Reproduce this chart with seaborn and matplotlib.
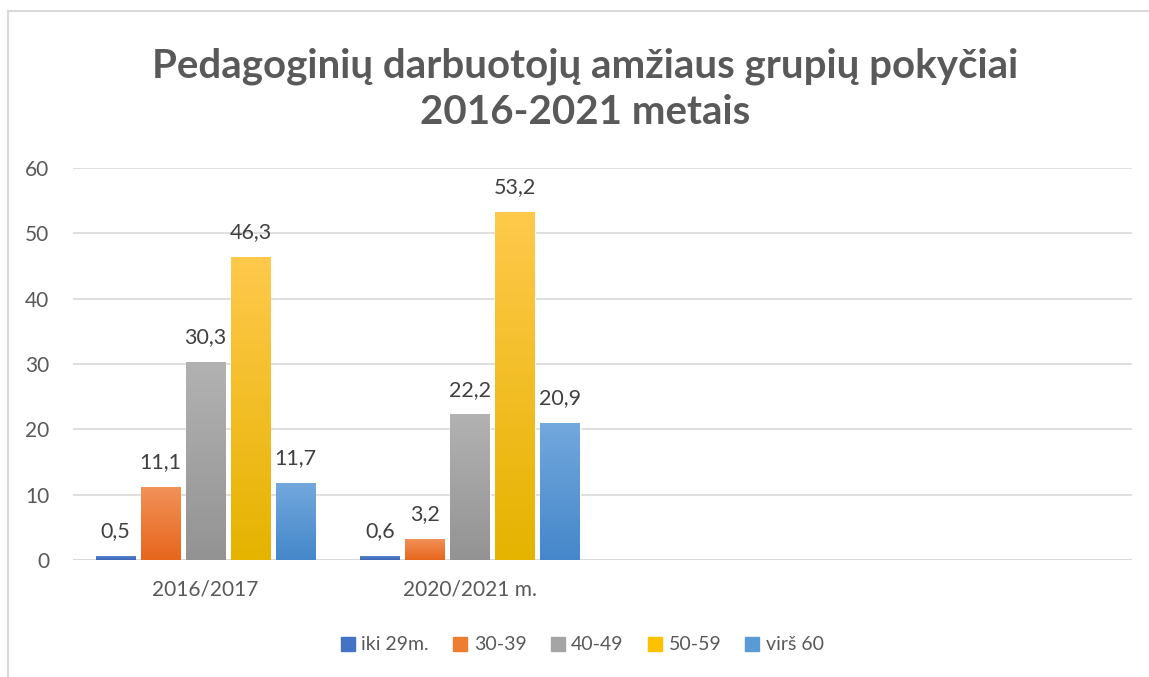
import numpy as np
import pandas as pd
import seaborn as sns
import matplotlib
matplotlib.use("Agg")
import matplotlib.pyplot as plt
from matplotlib.colors import LinearSegmentedColormap
from matplotlib.lines import Line2D
from matplotlib.patches import Rectangle

# ---- data ----
categories = ["2016/2017", "2020/2021 m."]
groups = ["iki 29m.", "30-39", "40-49", "50-59", "virš 60"]
values_2016 = [0.5, 11.1, 30.3, 46.3, 11.7]
values_2020 = [0.6, 3.2, 22.2, 53.2, 20.9]
yticks = [0, 10, 20, 30, 40, 50, 60]
title = "Pedagoginių darbuotojų amžiaus grupių pokyčiai\n2016-2021 metais"

colors = ["#4472C4", "#ED7D31", "#A5A5A5", "#FFC000", "#5B9BD5"]
grads = [("#5A82CE", "#3A65B5"), ("#F29158", "#E6661C"), ("#B2B2B2", "#939393"),
         ("#FFC94C", "#E5B300"), ("#72A8DD", "#4587CA")]

df = pd.DataFrame({
    "period": [categories[0]] * len(groups) + [categories[1]] * len(groups),
    "group": groups * 2,
    "value": values_2016 + values_2020,
})

sns.set_theme(style="white")
plt.rcParams["font.family"] = ["Lato", "DejaVu Sans"]

W, H = 1149, 677
fig = plt.figure(figsize=(W / 100, H / 100), dpi=100)
ax = fig.add_axes([73 / W, (H - 560) / H, (1132 - 73) / W, (560 - 168) / H])

sns.barplot(data=df, x="period", y="value", hue="group", order=categories,
            hue_order=groups, palette=colors, saturation=1, width=0.85, gap=0.12,
            errorbar=None, legend=False, ax=ax)

# gradient fill for each bar
for cont, (top, bot) in zip(ax.containers, grads):
    cmap = LinearSegmentedColormap.from_list("g", [bot, top])
    for p in cont.patches:
        x0, y0, w, h = p.get_x(), p.get_y(), p.get_width(), p.get_height()
        ax.imshow(np.linspace(0, 1, 256).reshape(-1, 1), cmap=cmap, origin="lower",
                  extent=[x0, x0 + w, y0, y0 + h], aspect="auto",
                  zorder=p.get_zorder() + 0.1, clip_path=p, clip_on=True)

for cont in ax.containers:
    ax.bar_label(cont, labels=[f"{v:.1f}".replace(".", ",") for v in cont.datavalues],
                 padding=11, fontsize=15.5, color="#404040")

ax.set_xlim(-0.5, 3.5)
ax.set_ylim(0, 60)
ax.set_yticks(yticks)
ax.set_yticklabels([str(t) for t in yticks])
ax.set_xlabel("")
ax.set_ylabel("")
ax.set_axisbelow(True)
ax.yaxis.grid(True, color="#D9D9D9", lw=1.2)
ax.xaxis.grid(False)
for s in ax.spines.values():
    s.set_visible(False)
ax.axhline(0, color="#D9D9D9", lw=1.4, zorder=1)
ax.tick_params(axis="y", length=0, pad=17, labelsize=15, labelcolor="#595959")
ax.tick_params(axis="x", length=0, pad=14, labelsize=15, labelcolor="#595959")

fig.text(585 / W, 1 - 89 / H, title, ha="center", va="center", fontsize=29,
         fontweight="bold", color="#595959", linespacing=1.3)

handles = [Line2D([0], [0], marker="s", linestyle="none", markersize=9.5,
                  markerfacecolor=c, markeredgecolor=c) for c in colors]
fig.legend(handles, groups, loc="center", bbox_to_anchor=(582 / W, 1 - 645 / H),
           ncol=5, frameon=False, fontsize=14, handlelength=0.8, handletextpad=0.3,
           columnspacing=1.2, labelcolor="#595959")

fig.patches.append(Rectangle((8 / W, -0.05), 1.5, (H - 11) / H + 0.05,
                             transform=fig.transFigure, fill=False,
                             edgecolor="#D9D9D9", lw=1.5))

fig.savefig("out.png", dpi=100)
